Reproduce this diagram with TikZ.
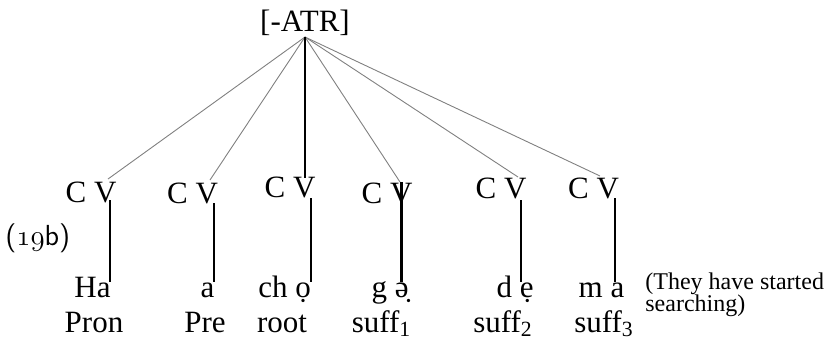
\documentclass[tikz,border=0pt]{standalone}
\usepackage{fontspec}
\setmainfont{Liberation Serif}
\NewDocumentCommand\OldNum{m}{{\usefont{OML}{cmm}{m}{it}#1}}

\begin{document}
\begin{tikzpicture}[x=0.5pt,y=-0.5pt,
  word/.style={inner sep=0pt,anchor=base,font=\fontsize{15.5}{18}\selectfont},
  spread/.style={gray,line width=0.45pt},
  spine/.style={black,line width=1.1pt},
  stem/.style={black,line width=1pt}]
\useasboundingbox (0,0) rectangle (834,339);
% feature on top
\node[word] (atr) at (305,31) {[-ATR]};
\coordinate (apex) at (305,37);
% skeleton tier
\node[word] (cv1) at (91,202) {C V};
\node[word] (cv2) at (192.5,203) {C V};
\node[word] (cv3) at (290,197) {C V};
\node[word] (cv4) at (387,203) {C V};
\node[word] (cv5) at (501,198) {C V};
\node[word] (cv6) at (593.5,198) {C V};
% segments
\node[word] (seg1) at (92.5,297) {Ha};
\node[word] (seg2) at (207.5,297) {a};
\node[word] (seg3) at (284.5,297) {ch ọ};
\node[word] (seg4) at (390,297) {g ə̣};
\node[word] (seg5) at (515,297) {d ẹ};
\node[word] (seg6) at (601.5,297) {m a};
% morphemes
\node[word] (mor1) at (94,332) {Pron};
\node[word] (mor2) at (205,332) {Pre};
\node[word] (mor3) at (282,332) {root};
\node[word] (mor4) at (381.5,332) {suff\textsubscript{1}};
\node[word] (mor5) at (503,332) {suff\textsubscript{2}};
\node[word] (mor6) at (604,332) {suff\textsubscript{3}};
\begin{scope}
\clip (640,255) rectangle (834,316);
\node[anchor=north west,inner sep=0pt,align=left,
  font=\fontsize{12}{11}\selectfont] (trans) at (645,272)
  {(They have started\\searching)};
\end{scope}
\node[anchor=base west,inner sep=0pt,
  font=\fontsize{14.5}{16}\selectfont\sffamily] (exno) at (5,245) {(\OldNum{19}b)};
% association lines
\foreach \n/\x/\y in {1/108/179,2/210/180,3/305/178,4/400/182,5/518/177,6/600/176}
  \coordinate (v\n) at (\x,\y);
\foreach \n in {1,2,4,5,6}
  \draw[spread] (apex) -- (v\n);
\draw[spine] (apex) -- (v3);
\foreach \n/\x/\y in {1/110/200,2/214/203,3/311/198,4/401/182,5/521/200,6/615/198}
  {\coordinate (top\n) at (\x,\y);
   \coordinate (bot\n) at (\x,282);}
\foreach \n in {1,2,3,5,6}
  \draw[stem] (top\n) -- (bot\n);
\draw[stem,line width=1.5pt] (top4) -- (bot4);
\end{tikzpicture}
\end{document}
